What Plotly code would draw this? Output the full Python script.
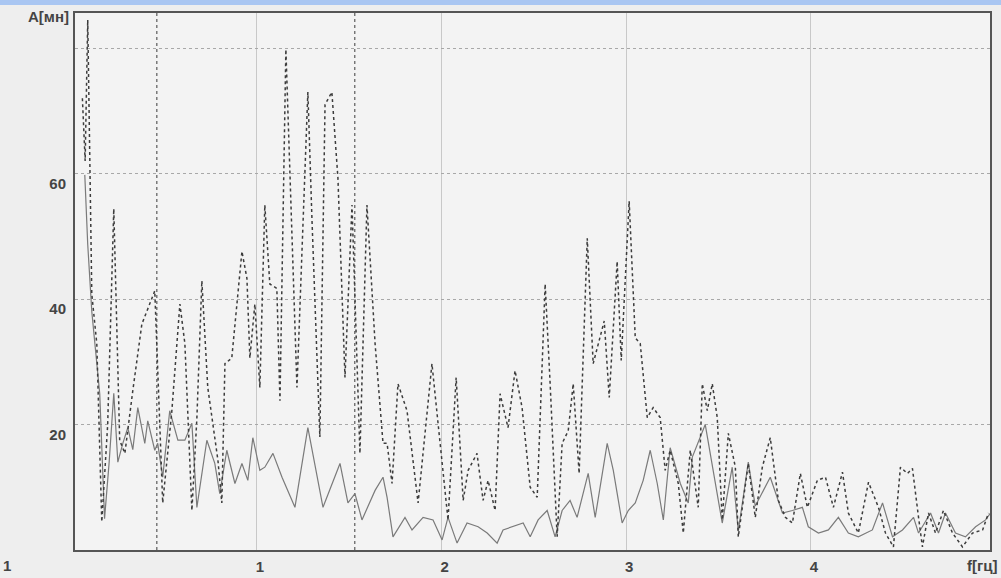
import plotly.graph_objects as go

# Trace A: dotted, darker (higher peaks)
freq_a = [0.055, 0.07, 0.084, 0.095, 0.106, 0.133, 0.16, 0.192, 0.225, 0.257, 0.285, 0.328, 0.377, 0.447,
          0.463, 0.490, 0.539, 0.583, 0.610, 0.648, 0.675, 0.702, 0.734, 0.789, 0.810, 0.827, 0.864,
          0.919, 0.946, 0.962, 0.989, 1.016, 1.043, 1.070, 1.108, 1.125, 1.157, 1.179, 1.217, 1.276,
          1.298, 1.341, 1.369, 1.406, 1.439, 1.477, 1.515, 1.558, 1.596, 1.640, 1.683, 1.705, 1.732,
          1.764, 1.813, 1.873, 1.948, 1.981, 2.035, 2.079, 2.117, 2.144, 2.192, 2.225, 2.252, 2.290,
          2.317, 2.360, 2.398, 2.436, 2.480, 2.518, 2.561, 2.588, 2.626, 2.653, 2.686, 2.713, 2.745,
          2.789, 2.821, 2.881, 2.908, 2.951, 2.973, 3.016, 3.049, 3.076, 3.114, 3.146, 3.184, 3.211,
          3.238, 3.282, 3.309, 3.347, 3.390, 3.412, 3.439, 3.466, 3.493, 3.520, 3.553, 3.591, 3.607,
          3.661, 3.699, 3.737, 3.780, 3.824, 3.862, 3.900, 3.943, 3.981, 4.035, 4.079, 4.122, 4.171,
          4.203, 4.257, 4.312, 4.366, 4.404, 4.447, 4.485, 4.523, 4.550, 4.583, 4.604, 4.637, 4.675,
          4.718, 4.767, 4.821, 4.875, 4.930, 4.962]
amp_a = [72, 62, 84.5, 60, 40.8, 32.9, 4.5, 20, 54.4, 17.5, 15.4, 25.4, 36, 41.3,
         27.5, 7.5, 22, 39.2, 32.9, 6.3, 21, 42.9, 25.9, 14.3, 7.5, 29.7, 30.6,
         47.6, 43.3, 30.6, 39.2, 25.9, 55, 42.4, 41.7, 23.8, 79.8, 59.2, 25.9, 73,
         52.9, 18, 71, 73, 59.2, 27.5, 55, 15.4, 55, 32.9, 17, 17, 10.6,
         26.5, 22.2, 7.5, 29.7, 20.2, 4.8, 27.5, 7.9, 12.7, 15.4, 7.9, 11.1, 6.3,
         24.9, 19.5, 28.6, 22.7, 10, 8.4, 42.4, 26.5, 2.1, 17, 19, 26.5, 12.2,
         49.7, 29.7, 36.5, 24.3, 46, 30.2, 55.6, 33.8, 32.9, 21.1, 22.7, 21.1, 12.7,
         15.9, 10.6, 2.7, 15.9, 6.8, 26.5, 22.2, 26.5, 21.1, 4.8, 18.6, 13.2, 2.1,
         13.8, 5.2, 13.2, 17.9, 7.9, 5.2, 4.3, 12.2, 6.8, 11.1, 11.6, 6.8, 12.4,
         5.9, 2.7, 10.8, 6.8, 2.7, 0.5, 13.2, 12.2, 13, 5.2, 0.5, 5.9, 2.7,
         6.3, 2.7, 0.5, 2.7, 3.2, 5.9]

# Trace B: solid, lighter (lower)
freq_b = [0.068, 0.084, 0.106, 0.133, 0.149, 0.175, 0.200, 0.225, 0.247, 0.274, 0.301, 0.328, 0.355,
          0.393, 0.409, 0.447, 0.463, 0.490, 0.528, 0.572, 0.610, 0.648, 0.675, 0.729, 0.772, 0.799,
          0.837, 0.881, 0.919, 0.951, 0.978, 1.016, 1.043, 1.087, 1.136, 1.206, 1.276, 1.358, 1.450,
          1.493, 1.531, 1.569, 1.640, 1.683, 1.705, 1.737, 1.802, 1.840, 1.900, 1.954, 2.003, 2.035,
          2.084, 2.138, 2.198, 2.247, 2.301, 2.333, 2.388, 2.442, 2.480, 2.523, 2.572, 2.615, 2.653,
          2.696, 2.734, 2.794, 2.832, 2.897, 2.930, 2.978, 3.011, 3.049, 3.092, 3.130, 3.168, 3.201,
          3.238, 3.293, 3.336, 3.358, 3.428, 3.520, 3.574, 3.607, 3.661, 3.699, 3.780, 3.846, 3.900,
          3.954, 3.986, 4.041, 4.095, 4.149, 4.203, 4.257, 4.333, 4.388, 4.442, 4.496, 4.556, 4.583,
          4.648, 4.691, 4.729, 4.783, 4.837, 4.892, 4.946, 4.973]
amp_b = [59.8, 48.7, 38, 30, 24.9, 5, 14, 25, 14, 17, 19.5, 16, 22.7,
         17, 20.6, 15.9, 17, 11.6, 22.2, 17.5, 17.5, 20.2, 6.8, 17.5, 13.8, 9,
         15.9, 10.6, 13.8, 11.1, 17.9, 12.7, 13.2, 15.4, 11.6, 6.8, 19.5, 6.8, 13.8,
         7.5, 9, 4.8, 9.5, 11.6, 8.4, 2.1, 5.2, 3.2, 5.2, 4.8, 1.6, 5.2,
         1.1, 4.3, 3.7, 2.7, 1.1, 3.2, 3.7, 4.3, 2.1, 4.8, 6.3, 2.1, 6.3,
         7.9, 5.2, 12.2, 5.2, 17, 12.7, 4.3, 6.3, 7.5, 11.1, 15.9, 10.6, 4.8,
         16.3, 10.6, 7.5, 14.8, 20, 4.3, 13.2, 3, 14, 7, 11.6, 5.9, 6.3,
         6.8, 3.7, 2.7, 3.2, 5.2, 2.7, 2.1, 3.2, 7.5, 2.1, 3.2, 5.2, 2.7,
         5.9, 2.7, 5.9, 2.7, 2.1, 3.7, 4.8, 5.9]

band_edges = [0.458, 1.53]
x_ticks = [1, 2, 3, 4]
y_ticks = [20, 40, 60, 80]
y_tick_text = ["20", "40", "60", ""]

fig = go.Figure()
fig.add_trace(go.Scatter(x=freq_b, y=amp_b, mode="lines",
                         line=dict(color="#7a7a7a", width=1.2), showlegend=False))
fig.add_trace(go.Scatter(x=freq_a, y=amp_a, mode="lines",
                         line=dict(color="#3c3c3c", width=1.5, dash="dot"), showlegend=False))

for xe in band_edges:
    fig.add_shape(type="line", x0=xe, x1=xe, y0=0, y1=1, xref="x", yref="paper",
                  line=dict(color="#666666", width=1.3, dash="dot"), layer="below")

# top blue window strip
fig.add_shape(type="rect", xref="paper", yref="paper", x0=-0.09, x1=1.02, y0=1.0 + 8/537, y1=1.0 + 14/537,
              fillcolor="#a9c6f2", line=dict(width=0), layer="above")

font_lbl = dict(family="Liberation Sans, Arial, sans-serif", size=15, color="#444444")

fig.add_annotation(text="<b>A[мн]</b>", xref="paper", yref="paper", x=-0.004, y=1.0 - 3/537,
                   xanchor="right", yanchor="middle", showarrow=False, font=font_lbl)
fig.add_annotation(text="<b>f[гц]</b>", xref="paper", yref="paper", x=(999 - 75) / 915, y=-15/537,
                   xanchor="right", yanchor="middle", showarrow=False, font=font_lbl)
fig.add_annotation(text="<b>1</b>", xref="paper", yref="paper", x=(1 - 75) / 915, y=-15/537,
                   xanchor="left", yanchor="middle", showarrow=False, font=font_lbl)

fig.update_layout(
    width=1001, height=578,
    margin=dict(l=75, r=11, t=13, b=28, autoexpand=False),
    paper_bgcolor="#eeeeee",
    plot_bgcolor="#f3f3f3",
    font=font_lbl,
    xaxis=dict(range=[0.015, 4.97], tickvals=x_ticks,
               ticktext=["<b>%d</b>" % v for v in x_ticks],
               showgrid=True, gridcolor="#c8c8c8", gridwidth=1,
               showline=True, linecolor="#555555", linewidth=2, mirror=True,
               ticks="", zeroline=False, ticklabelshift=3, ticklabelstandoff=2,
               automargin=False),
    yaxis=dict(range=[0, 85.6], tickvals=y_ticks,
               ticktext=["<b>%s</b>" % t if t else "" for t in y_tick_text],
               showgrid=True, gridcolor="#a8a8a8", gridwidth=1, griddash="dot",
               showline=True, linecolor="#555555", linewidth=2, mirror=True,
               ticks="", zeroline=False, ticklabelshift=10, ticklabelstandoff=4,
               automargin=False),
)

fig.write_html("out.html", config={"displayModeBar": False},
               post_script="document.body.style.margin='0';document.body.style.background='#eeeeee';")
